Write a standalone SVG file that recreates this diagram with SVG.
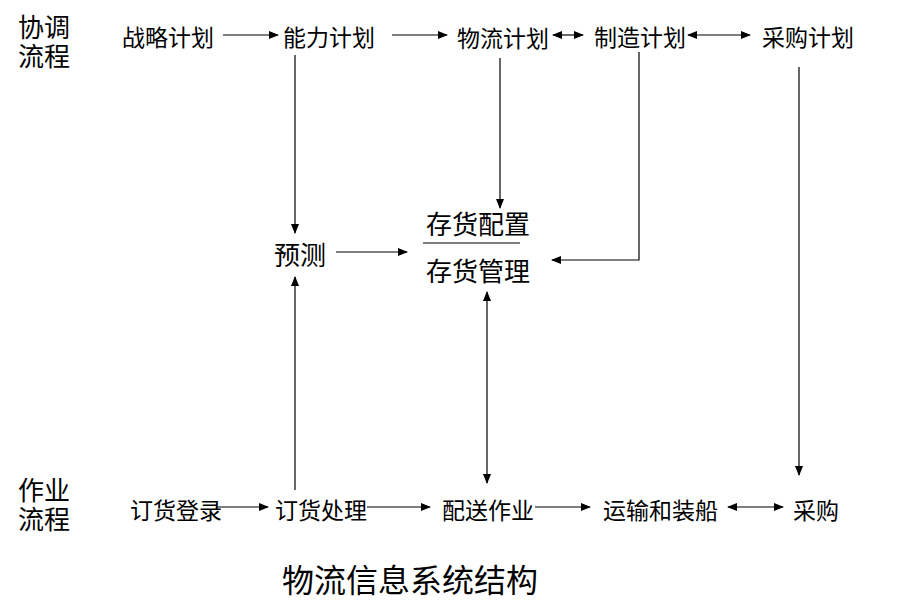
<svg xmlns="http://www.w3.org/2000/svg" width="919" height="616" viewBox="0 0 919 616">
<style>
text{font-family:"Noto Sans CJK SC","Noto Sans CJK TC",sans-serif;fill:#000}
.t{font-size:23px}
.m{font-size:26px}
.h{font-size:26px}
.title{font-size:32px}
.c line,.c polyline{stroke:#000;stroke-width:1.2;fill:none}
</style>
<defs>
<marker id="a" markerUnits="userSpaceOnUse" markerWidth="10" markerHeight="8" refX="9" refY="4" orient="auto"><path d="M0,0 L10,4 L0,8 Z" fill="#000"/></marker>
<marker id="s" markerUnits="userSpaceOnUse" markerWidth="10" markerHeight="8" refX="1" refY="4" orient="auto"><path d="M10,0 L0,4 L10,8 Z" fill="#000"/></marker>
</defs>
<rect width="919" height="616" fill="#fff"/>
<g id="lane-top"><text class="h"><tspan x="18" y="37">协调</tspan><tspan x="18" y="66">流程</tspan></text></g>
<g id="lane-bottom"><text class="h"><tspan x="18" y="500">作业</tspan><tspan x="18" y="529">流程</tspan></text></g>
<g id="n-zhanlue"><text class="t" x="122" y="46">战略计划</text></g>
<g id="n-nengli"><text class="t" x="283" y="46">能力计划</text></g>
<g id="n-wuliu"><text class="t" x="457" y="47">物流计划</text></g>
<g id="n-zhizao"><text class="t" x="594" y="46">制造计划</text></g>
<g id="n-caigoujh"><text class="t" x="762" y="46">采购计划</text></g>
<g id="n-yuce"><text class="m" x="274" y="265">预测</text></g>
<g id="n-cunhuo"><text class="m" x="426" y="234">存货配置</text><line x1="423" y1="243" x2="520" y2="243" stroke="#000" stroke-width="1.2"/><text class="m" x="426" y="281">存货管理</text></g>
<g id="n-dinghuodl"><text class="t" x="130" y="519">订货登录</text></g>
<g id="n-dinghuocl"><text class="t" x="275" y="519">订货处理</text></g>
<g id="n-peisong"><text class="t" x="442" y="519">配送作业</text></g>
<g id="n-yunshu"><text class="t" x="603" y="519">运输和装船</text></g>
<g id="n-caigou"><text class="t" x="793" y="519">采购</text></g>
<g id="title"><text class="title" x="282" y="592">物流信息系统结构</text></g>
<g class="c" id="connectors">
<line x1="223" y1="35" x2="278" y2="35" marker-end="url(#a)"/>
<line x1="392" y1="35" x2="447" y2="35" marker-end="url(#a)"/>
<line x1="553" y1="35" x2="583" y2="35" marker-start="url(#s)" marker-end="url(#a)"/>
<line x1="688" y1="35" x2="750" y2="35" marker-start="url(#s)" marker-end="url(#a)"/>
<line x1="295" y1="55" x2="295" y2="233" marker-end="url(#a)"/>
<line x1="500" y1="58" x2="500" y2="208" marker-end="url(#a)"/>
<polyline points="639,52 639,260 552,260" marker-end="url(#a)"/>
<line x1="799" y1="67" x2="799" y2="475" marker-end="url(#a)"/>
<line x1="336" y1="252" x2="407" y2="252" marker-end="url(#a)"/>
<line x1="487" y1="292" x2="487" y2="483" marker-start="url(#s)" marker-end="url(#a)"/>
<line x1="295" y1="490" x2="295" y2="277" marker-end="url(#a)"/>
<line x1="217" y1="507" x2="268" y2="507" marker-end="url(#a)"/>
<line x1="367" y1="507" x2="430" y2="507" marker-end="url(#a)"/>
<line x1="535" y1="507" x2="590" y2="507" marker-end="url(#a)"/>
<line x1="728" y1="507" x2="783" y2="507" marker-start="url(#s)" marker-end="url(#a)"/>
</g>
</svg>
